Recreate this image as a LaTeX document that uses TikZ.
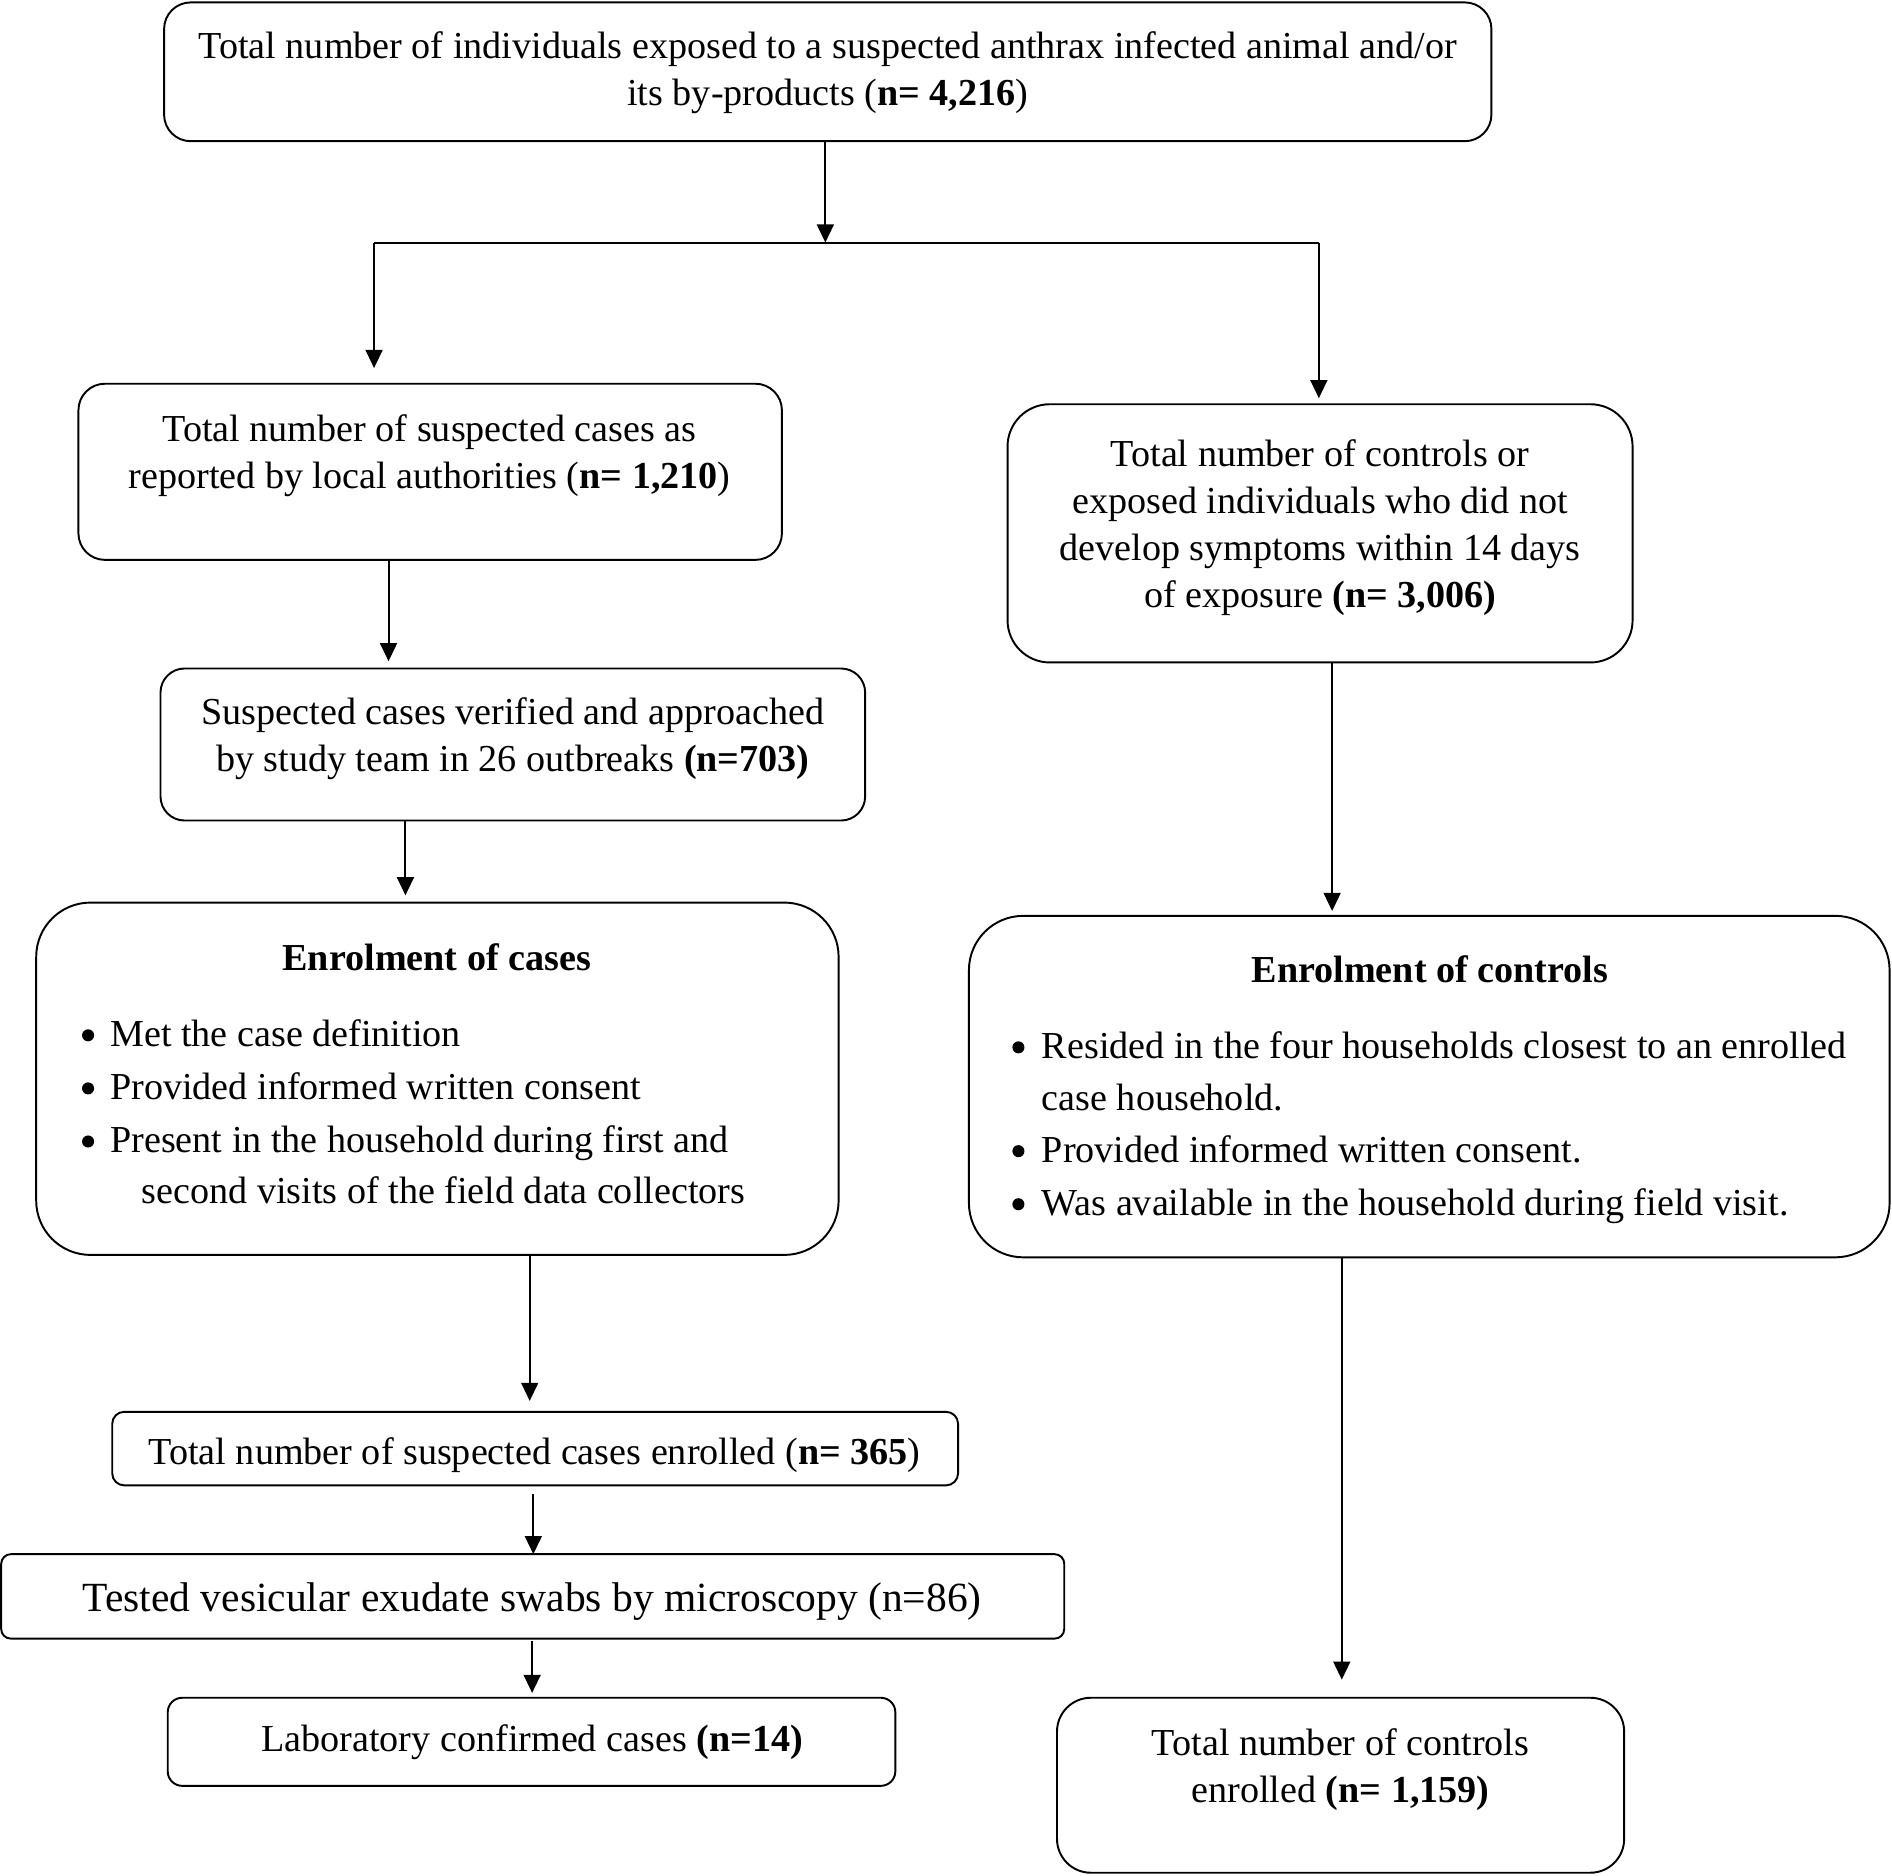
\documentclass[tikz,border=0pt]{standalone}
\usepackage{fontspec}
\setmainfont{Liberation Serif}
\usetikzlibrary{arrows.meta,calc}
\newlength\pu
\setlength\pu{0.5pt}
\newcommand\flowbox[6]{\node[box, rounded corners=#6\pu, minimum width={(#4-#2)*\pu}, minimum height={(#5-#3)*\pu}] (#1) at ({(#2+#4)/2},{(#3+#5)/2}) {};}
\begin{document}
\begin{tikzpicture}[x=0.5pt,y=-0.5pt,
  box/.style={draw, line width=0.8pt, inner sep=0pt, outer sep=0pt},
  txt/.style={inner sep=0pt, align=center, font=\fontsize{15.8}{19.5}\selectfont},
  ltxt/.style={inner sep=0pt, anchor=west, font=\fontsize{15.8}{19.5}\selectfont, text height=0.7em, text depth=0.2em},
  bul/.style={circle, fill, inner sep=0pt, minimum size=5pt},
  arr/.style={-{Triangle[length=7.5pt,width=7pt]}, line width=0.8pt},
  ln/.style={line width=0.8pt}]
\useasboundingbox (0,0) rectangle (1568,1554);
% boxes
\flowbox{b1}{136}{2}{1236}{117}{22}
\flowbox{b2}{65}{318}{648}{464}{22}
\flowbox{b3}{835}{335}{1353}{549}{35}
\flowbox{b4}{133}{554}{717}{680}{20}
\flowbox{b5}{30}{748}{695}{1040}{45}
\flowbox{b6}{803}{759}{1566}{1042}{45}
\flowbox{b7}{93}{1170}{794}{1231}{10}
\flowbox{b8}{1}{1288}{882}{1358}{8}
\flowbox{b9}{139}{1407}{742}{1480}{12}
\flowbox{b10}{876}{1407}{1346}{1552}{28}
% texts
\node[txt] (t1) at (686,60) {Total number of individuals exposed to a suspected anthrax infected animal and/or\\its by-products (\textbf{n= 4,216})};
\node[txt] (t2) at (356,378) {Total number of suspected cases as\\reported by local authorities (\textbf{n= 1,210})};
\node[txt] (t3) at (1094,437.5) {Total number of controls or\\exposed individuals who did not\\develop symptoms within 14 days\\of exposure \textbf{(n= 3,006)}};
\node[txt] (t4) at (425,612.5) {Suspected cases verified and approached\\by study team in 26 outbreaks \textbf{(n=703)}};
\node[txt] (t5) at (362,793) {\textbf{Enrolment of cases}};
\node[bul] (c1b) at (73,858) {};
\node[ltxt] (c1) at (91,862.5) {Met the case definition};
\node[bul] (c2b) at (73,902) {};
\node[ltxt] (c2) at (91,906.5) {Provided informed written consent};
\node[bul] (c3b) at (73,946) {};
\node[ltxt] (c3) at (91,950.5) {Present in the household during first and};
\node[ltxt] (c4) at (117,992.5) {second visits of the field data collectors};
\node[txt] (t6) at (1185,803) {\textbf{Enrolment of controls}};
\node[bul] (d1b) at (844,868) {};
\node[ltxt] (d1) at (863,872.5) {Resided in the four households closest to an enrolled};
\node[ltxt] (d2) at (863,915.5) {case household.};
\node[bul] (d3b) at (844,954) {};
\node[ltxt] (d3) at (863,958.5) {Provided informed written consent.};
\node[bul] (d4b) at (844,998) {};
\node[ltxt] (d4) at (863,1002.5) {Was available in the household during field visit.};
\node[txt] (t7) at (443,1206) {Total number of suspected cases enrolled (\textbf{n= 365})};
\node[txt, font=\fontsize{17.2}{21}\selectfont] (t8) at (441,1327) {Tested vesicular exudate swabs by microscopy (n=86)};
\node[txt] (t9) at (441,1444) {Laboratory confirmed cases \textbf{(n=14)}};
\node[txt] (t10) at (1111,1466.5) {Total number of controls\\enrolled \textbf{(n= 1,159)}};
% connectors
\coordinate (split) at ($(b1.south)+(-2,84)$);
\coordinate (splitL) at (split -| 310,0);
\coordinate (splitR) at (split -| 1093,0);
\draw[arr] (b1.south -| split) -- (split);
\draw[ln] (splitL) -- (splitR);
\draw[arr] (splitL) -- ($(splitL |- b2.north)+(0,-13)$);
\draw[arr] (splitR) -- ($(splitR |- b3.north)+(0,-5)$);
\coordinate (a2) at ($(b2.south)+(-34.5,0)$);
\draw[arr] (a2) -- ($(a2 |- b4.north)+(0,-6)$);
\coordinate (a4) at ($(b4.south)+(-89,0)$);
\draw[arr] (a4) -- ($(a4 |- b5.north)+(0,-6)$);
\coordinate (a3) at ($(b3.south)+(10,0)$);
\draw[arr] (a3) -- ($(a3 |- b6.north)+(0,-4)$);
\coordinate (a5) at ($(b5.south)+(76.5,0)$);
\draw[arr] (a5) -- ($(a5 |- b7.north)+(0,-9)$);
\coordinate (a7) at ($(b7.south)+(-1.5,7)$);
\draw[arr] (a7) -- (a7 |- b8.north);
\coordinate (a8) at ($(b8.south)+(-0.5,2)$);
\draw[arr] (a8) -- ($(a8 |- b9.north)+(0,-4)$);
\coordinate (a6) at ($(b6.south)+(-72.5,0)$);
\draw[arr] (a6) -- ($(a6 |- b10.north)+(0,-15)$);
\end{tikzpicture}
\end{document}
